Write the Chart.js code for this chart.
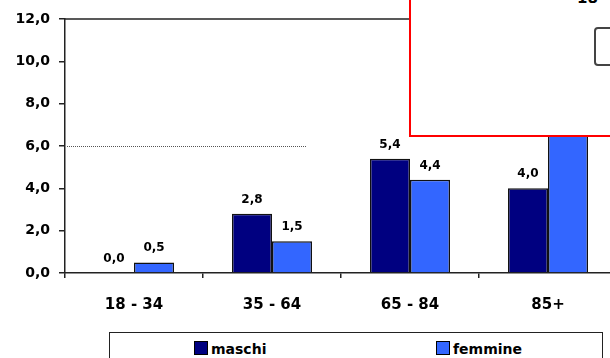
<!DOCTYPE html>
<html>
<head>
<meta charset="utf-8">
<script src="https://cdn.jsdelivr.net/npm/chart.js@4/dist/chart.umd.min.js"></script>
<style>
body{margin:0;background:#fff;font-family:"DejaVu Sans",sans-serif;}
#wrap{position:relative;width:610px;height:358px;overflow:hidden;}
#holder{position:absolute;left:0;top:0;width:620px;height:320px;}
#legend{position:absolute;left:109px;top:332px;width:494px;height:40px;border:1.5px solid #222;box-sizing:border-box;}
.item{position:absolute;top:8px;font-weight:bold;font-size:14px;color:#000;line-height:16px;}
.sw{display:inline-block;width:12px;height:12px;border:1px solid #000;vertical-align:-1px;margin-right:3px;}
#overlay{position:absolute;left:409px;top:-30px;width:240px;height:167px;border:2px solid #f00;background:#fff;box-sizing:border-box;}
#overlay .cut{position:absolute;left:166px;top:18px;font-weight:bold;font-size:15px;line-height:17px;color:#000;}
#overlay .frame{position:absolute;left:183px;top:55px;width:60px;height:35px;border:2px solid #444;border-radius:4px;}
</style>
</head>
<body>
<div id="wrap">
  <div id="holder"><canvas id="Chart1" width="620" height="320"></canvas></div>
  <div id="legend"></div>
  <div id="overlay"><span class="cut">18 -</span><div class="frame"></div></div>
</div>
<script>
var categorie = ['18 - 34', '35 - 64', '65 - 84', '85+'];
var maschi = [0.0, 2.8, 5.4, 4.0];
var femmine = [0.5, 1.5, 4.4, 7.6];
var serie = ['maschi', 'femmine'];
var colori = ['#000080', '#3366ff'];
var yMax = 12, yStep = 2;
var rifLinea = 6;

function fmt(v){ return Number(v).toFixed(1).replace('.', ','); }

// value labels above each bar
var valueLabels = {
    id: 'valueLabels',
    afterDatasetsDraw: function(chart){
        var ctx = chart.ctx;
        ctx.save();
        ctx.font = 'bold 12px "DejaVu Sans"';
        ctx.fillStyle = '#000';
        ctx.textAlign = 'center';
        ctx.textBaseline = 'alphabetic';
        chart.data.datasets.forEach(function(ds, i){
            chart.getDatasetMeta(i).data.forEach(function(bar, j){
                ctx.fillText(fmt(ds.data[j]), bar.x, bar.y - 11);
            });
        });
        ctx.restore();
    }
};

// top frame line and dotted reference line
var frame = {
    id: 'frame',
    beforeDatasetsDraw: function(chart){
        var ctx = chart.ctx, a = chart.chartArea;
        var y = chart.scales.y, x = chart.scales.x;
        ctx.save();
        ctx.strokeStyle = '#222';
        ctx.lineWidth = 1.5;
        ctx.beginPath();
        ctx.moveTo(a.left, a.top);
        ctx.lineTo(a.right, a.top);
        ctx.stroke();
        var yy = Math.round(y.getPixelForValue(rifLinea)) + 0.5;
        var xEnd = x.getPixelForValue(1) + (x.getPixelForValue(1) - x.getPixelForValue(0)) / 4;
        ctx.strokeStyle = '#555';
        ctx.lineWidth = 1;
        ctx.setLineDash([1, 1]);
        ctx.beginPath();
        ctx.moveTo(a.left + 2, yy);
        ctx.lineTo(xEnd, yy);
        ctx.stroke();
        ctx.restore();
    }
};

function buildLegend(){
    var el = document.getElementById('legend');
    var pos = [84, 326];
    serie.forEach(function(s, i){
        var d = document.createElement('div');
        d.className = 'item';
        d.style.left = pos[i] + 'px';
        d.innerHTML = '<span class="sw" style="background:' + colori[i] + '"></span>' + s;
        el.appendChild(d);
    });
}

window.onload = function(){
    buildLegend();
    var ctx = document.getElementById('Chart1').getContext('2d');
    new Chart(ctx, {
        type: 'bar',
        data: {
            labels: categorie,
            datasets: [
                {label: serie[0], data: maschi, backgroundColor: colori[0], borderColor: '#111', borderWidth: 1.5, borderSkipped: 'bottom'},
                {label: serie[1], data: femmine, backgroundColor: colori[1], borderColor: '#111', borderWidth: 1.5, borderSkipped: 'bottom'}
            ]
        },
        options: {
            responsive: false,
            animation: false,
            layout: {padding: {top: 19, right: 3, left: 0, bottom: 0}},
            plugins: {legend: {display: false}, tooltip: {enabled: false}},
            datasets: {bar: {barPercentage: 1.0, categoryPercentage: 0.58}},
            scales: {
                x: {
                    grid: {display: true, offset: true, drawOnChartArea: false, drawTicks: true, tickLength: 5, color: '#222', lineWidth: 1.5},
                    border: {display: true, color: '#222', width: 1.5},
                    ticks: {padding: 18, color: '#000', font: {family: 'DejaVu Sans', weight: 'bold', size: 15}},
                    afterFit: function(s){ s.height = 47; }
                },
                y: {
                    min: 0, max: yMax,
                    grid: {display: true, drawOnChartArea: false, drawTicks: true, tickLength: 6, color: '#222', lineWidth: 1.5},
                    border: {display: true, color: '#222', width: 1.5},
                    ticks: {stepSize: yStep, padding: 9, color: '#000', font: {family: 'DejaVu Sans', weight: 'bold', size: 14}, callback: function(v){ return fmt(v); }},
                    afterFit: function(s){ s.width = 65; }
                }
            }
        },
        plugins: [frame, valueLabels]
    });
};
</script>
</body>
</html>
